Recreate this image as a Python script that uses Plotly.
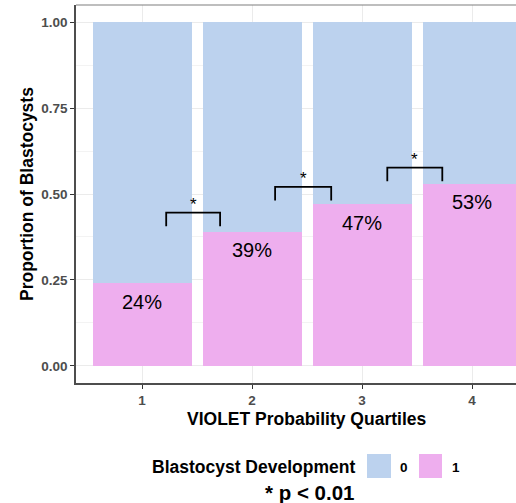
import plotly.graph_objects as go

# ---- data ----
quartiles = [1, 2, 3, 4]
tick_labels = ["1", "2", "3", "4"]
prop_dev = [0.24, 0.39, 0.47, 0.53]          # Blastocyst Development = 1
prop_nodev = [1 - p for p in prop_dev]       # Blastocyst Development = 0
pct_labels = ["24%", "39%", "47%", "53%"]

# significance brackets
br_x0 = [1.22, 2.21, 3.23]
br_x1 = [1.71, 2.72, 3.73]
br_top = [0.446, 0.521, 0.577]
br_leg = 0.04
br_label = ["*", "*", "*"]

y_ticks = [0, 0.25, 0.5, 0.75, 1.0]
y_tick_text = ["0.00", "0.25", "0.50", "0.75", "1.00"]

BLUE = "#BCD2EE"
PINK = "#EEAEEE"
FONT = "Liberation Sans, Arial, sans-serif"

W, H = 516, 503
ML, MR, MT, MB = 76, 0, 5, 120
PW = W - ML - MR
PH = H - MT - MB


def px(xp):
    return (xp - ML) / PW


def py(yp):
    return (MT + PH - yp) / PH


fig = go.Figure()
fig.add_trace(go.Bar(x=quartiles, y=prop_dev, marker=dict(color=PINK, line=dict(width=0)),
                     width=0.9, name="1", showlegend=False, hoverinfo="skip"))
fig.add_trace(go.Bar(x=quartiles, y=prop_nodev, marker=dict(color=BLUE, line=dict(width=0)),
                     width=0.9, name="0", showlegend=False, hoverinfo="skip"))

# percentage labels
fig.add_trace(go.Scatter(x=quartiles, y=[p - 0.06 for p in prop_dev], mode="text",
                         text=pct_labels, textposition="middle center",
                         textfont=dict(family=FONT, size=20, color="black"),
                         showlegend=False, hoverinfo="skip"))

# brackets
for x0, x1, top, lab in zip(br_x0, br_x1, br_top, br_label):
    fig.add_trace(go.Scatter(x=[x0, x0, x1, x1], y=[top - br_leg, top, top, top - br_leg],
                             mode="lines", line=dict(color="black", width=1.8),
                             showlegend=False, hoverinfo="skip"))
    fig.add_annotation(x=(x0 + x1) / 2, y=top, text=lab, showarrow=False,
                       xanchor="center", yanchor="bottom",
                       yshift=-3, font=dict(family=FONT, size=17, color="black"))

fig.update_layout(
    barmode="stack",
    width=W, height=H,
    margin=dict(l=ML, r=MR, t=MT, b=MB),
    plot_bgcolor="white", paper_bgcolor="white",
    showlegend=False,
    font=dict(family=FONT),
)

fig.update_xaxes(range=[0.4, 4.4], tickvals=quartiles, ticktext=tick_labels,
                 ticks="outside", ticklen=4, tickcolor="#333333", tickwidth=1,
                 showline=True, linecolor="#4d4d4d", linewidth=1.5,
                 showgrid=True, gridcolor="#ebebeb", gridwidth=1, zeroline=False,
                 tickfont=dict(family=FONT, size=13.5, color="#4d4d4d", weight="bold"))
fig.update_yaxes(range=[-0.05, 1.05], tickvals=y_ticks, ticktext=y_tick_text,
                 ticks="outside", ticklen=4, tickcolor="#333333", tickwidth=1,
                 showline=True, linecolor="#4d4d4d", linewidth=1.5,
                 showgrid=True, gridcolor="#ebebeb", gridwidth=1, zeroline=False,
                 minor=dict(tick0=0.125, dtick=0.25, showgrid=True, gridcolor="#f3f3f3", gridwidth=1),
                 tickfont=dict(family=FONT, size=13.5, color="#4d4d4d", weight="bold"))

# top panel border
fig.add_shape(type="line", xref="paper", yref="paper", x0=0, x1=1, y0=1, y1=1,
              line=dict(color="#7f7f7f", width=1.2))


def note(xp, yp, text, size, angle=0, xanchor="center", color="black"):
    fig.add_annotation(xref="paper", yref="paper", x=px(xp), y=py(yp), text=text,
                       showarrow=False, xanchor=xanchor, yanchor="middle", textangle=angle,
                       font=dict(family=FONT, size=size, color=color, weight="bold"))


# axis titles
note(306, 419, "VIOLET Probability Quartiles", 17.5)
note(27, 194, "Proportion of Blastocysts", 17.5, angle=-90)

# legend (drawn)
note(357, 467, "Blastocyst Development", 17.5, xanchor="right")
fig.add_shape(type="rect", xref="paper", yref="paper", x0=px(367), x1=px(391),
              y0=py(478), y1=py(454), fillcolor=BLUE, line=dict(width=0))
fig.add_shape(type="rect", xref="paper", yref="paper", x0=px(419), x1=px(442),
              y0=py(478), y1=py(454), fillcolor=PINK, line=dict(width=0))
note(404, 467, "0", 13.5)
note(456, 467, "1", 13.5)

# caption
note(309, 492, "* p < 0.01", 20.5)

fig.write_html("out.html", config={"displayModeBar": False},
               post_script="document.body.style.margin='0px';")
